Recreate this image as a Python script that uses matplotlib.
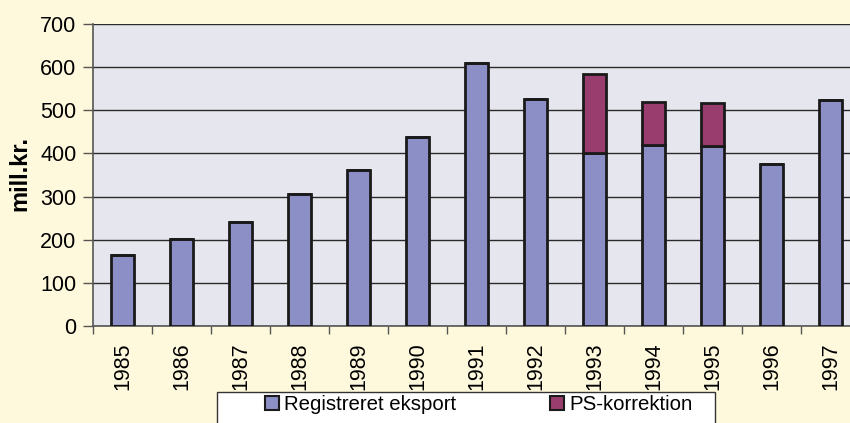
import matplotlib
matplotlib.use("Agg")
import matplotlib.pyplot as plt
from matplotlib.patches import Rectangle
import numpy as np

years = ["1985", "1986", "1987", "1988", "1989", "1990", "1991",
         "1992", "1993", "1994", "1995", "1996", "1997"]
registreret = [165, 202, 240, 307, 361, 438, 610, 525, 402, 419, 417, 376, 523]
ps_korrektion = [0, 0, 0, 0, 0, 0, 0, 0, 181, 100, 101, 0, 0]

plt.rcParams['font.family'] = ['Liberation Sans', 'DejaVu Sans']

W, H = 850, 423
bg = '#fef8dc'
fig = plt.figure(figsize=(W/100, H/100), dpi=100, facecolor=bg)
ax = fig.add_axes([93/W, 1-326/H, 767/W, 302/H])
ax.set_facecolor('#e6e7ee')

x = np.arange(len(years))
ax.bar(x, registreret, width=0.4, color='#8c8fc6', edgecolor='#1a1a1a',
       linewidth=2, label='Registreret eksport', zorder=3)
ax.bar(x, ps_korrektion, width=0.4, bottom=registreret, color='#993d6e',
       edgecolor='#1a1a1a', linewidth=2, label='PS-korrektion', zorder=3)

ax.set_xlim(-0.5, len(years) - 0.5)
ax.set_ylim(0, 700)
ax.set_yticks(range(0, 701, 100))
ax.yaxis.grid(True, color='#2a2a2a', linewidth=1, zorder=0)
ax.set_xticks(x)
ax.set_xticklabels(years, rotation=90, fontsize=15.5)
ax.set_xticks(np.arange(-0.5, len(years), 1), minor=True)
ax.tick_params(axis='x', which='major', length=0, pad=12)
ax.tick_params(axis='x', which='minor', length=6, color='#555555', width=1)
ax.tick_params(axis='y', length=7, color='#555555', width=1, labelsize=15.5, pad=5)
for s in ['top', 'right']:
    ax.spines[s].set_visible(False)
ax.spines['left'].set_color('#555555')
ax.spines['left'].set_linewidth(1.2)
ax.spines['bottom'].set_color('#555555')
ax.spines['bottom'].set_linewidth(1.2)

fig.text(20/W, 1-173/H, 'mill.kr.', rotation=90, fontsize=17,
         fontweight='bold', ha='center', va='center')

# legend frame (extends below the figure edge, as in the reference)
fig.patches.append(Rectangle((217/W, -0.05), (715-217)/W, 0.05 + 1-392/H,
                             transform=fig.transFigure, facecolor='white',
                             edgecolor='#333333', linewidth=1, zorder=1))

handles, labels = ax.get_legend_handles_labels()
leg = fig.legend(handles, labels, loc='upper left', ncol=2,
                 bbox_to_anchor=(265/W, 1-395/H),
                 fontsize=14.7, frameon=False,
                 handlelength=0.69, handleheight=0.69, handletextpad=0.25,
                 columnspacing=4.6, borderaxespad=0, borderpad=0)
for p in leg.get_patches():
    p.set_linewidth(1.5)

fig.savefig('out.png', dpi=100, facecolor=bg)
